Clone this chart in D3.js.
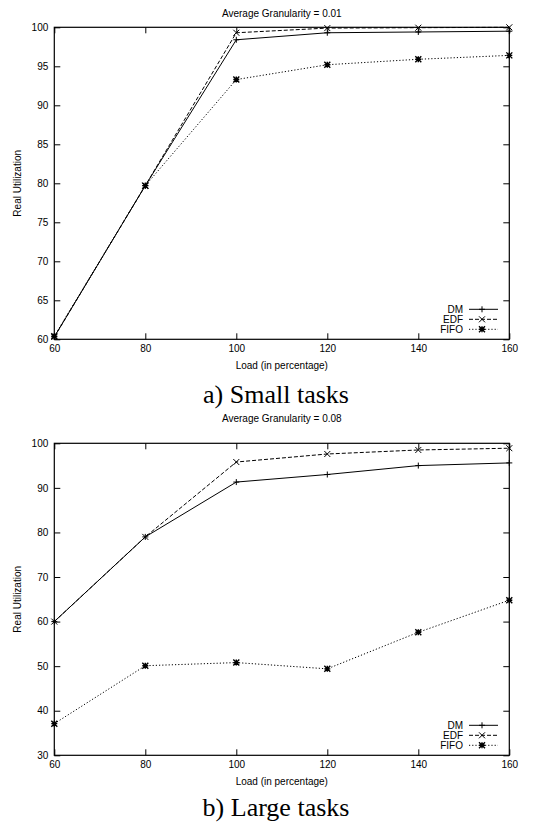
<!DOCTYPE html>
<html>
<head>
<meta charset="utf-8">
<script src="https://cdn.jsdelivr.net/npm/d3@7"></script>
<style>
  body { margin: 0; background: #fff; }
  svg { display: block; }
  text { font-family: "Liberation Sans", Arial, sans-serif; font-size: 10px; fill: #000; }
  text.caption { font-family: "Liberation Serif", "Times New Roman", serif; font-size: 26px; }
</style>
</head>
<body>
<div id="chart"></div>
<script>
// data
var loads = [60, 80, 100, 120, 140, 160];
var seriesNames = ["DM", "EDF", "FIFO"];

var smallDM   = [60.3, 79.7, 98.4, 99.3, 99.4, 99.5];
var smallEDF  = [60.3, 79.7, 99.3, 99.9, 99.95, 100];
var smallFIFO = [60.4, 79.7, 93.3, 95.2, 95.9, 96.4];

var largeDM   = [60, 79, 91.3, 93, 95, 95.6];
var largeEDF  = [60, 79, 95.8, 97.6, 98.5, 98.9];
var largeFIFO = [37.1, 50.1, 50.8, 49.4, 57.6, 64.8];

var xTicks = [60, 80, 100, 120, 140, 160];
var smallYTicks = [60, 65, 70, 75, 80, 85, 90, 95, 100];
var largeYTicks = [30, 40, 50, 60, 70, 80, 90, 100];

var W = 541, H = 826;

// line style per series (gnuplot look)
var DASH = { DM: null, EDF: "4,2", FIFO: "1.2,2" };

function markerPath(name, r) {
  var plus = "M" + (-r) + ",0H" + r + "M0," + (-r) + "V" + r;
  var cross = "M" + (-r) + "," + (-r) + "L" + r + "," + r + "M" + (-r) + "," + r + "L" + r + "," + (-r);
  if (name == "DM") return plus;
  if (name == "EDF") return cross;
  return plus + cross;
}

//////////////////////////////////
function drawPanel(svg, cfg) {
  var g = svg.append("g");
  var x = d3.scaleLinear().domain([60, 160]).range([cfg.left, cfg.right]);
  var y = d3.scaleLinear().domain(cfg.yDomain).range([cfg.bottom, cfg.top]);
  var tick = 6;

  // frame
  g.append("rect")
    .attr("x", cfg.left).attr("y", cfg.top)
    .attr("width", cfg.right - cfg.left).attr("height", cfg.bottom - cfg.top)
    .attr("fill", "none").attr("stroke", "#000").attr("stroke-width", 1.2);

  // axes (ticks mirrored on all sides, pointing inward)
  g.append("g").attr("transform", "translate(0," + cfg.bottom + ")")
    .call(d3.axisBottom(x).tickValues(xTicks).tickSizeInner(-tick).tickSizeOuter(0).tickPadding(6))
    .call(function(a) { a.select(".domain").remove(); });
  g.append("g").attr("transform", "translate(0," + cfg.top + ")")
    .call(d3.axisTop(x).tickValues(xTicks).tickSizeInner(-tick).tickSizeOuter(0).tickFormat(""))
    .call(function(a) { a.select(".domain").remove(); });
  g.append("g").attr("transform", "translate(" + cfg.left + ",0)")
    .call(d3.axisLeft(y).tickValues(cfg.yTicks).tickSizeInner(-tick).tickSizeOuter(0).tickPadding(6))
    .call(function(a) { a.select(".domain").remove(); });
  g.append("g").attr("transform", "translate(" + cfg.right + ",0)")
    .call(d3.axisRight(y).tickValues(cfg.yTicks).tickSizeInner(-tick).tickSizeOuter(0).tickFormat(""))
    .call(function(a) { a.select(".domain").remove(); });
  g.selectAll(".tick text")
    .attr("font-size", 10)
    .attr("font-family", "Liberation Sans, Arial, sans-serif")
    .attr("fill", "#000");
  g.selectAll(".tick line").attr("stroke", "#000");

  // titles
  g.append("text")
    .attr("x", (cfg.left + cfg.right) / 2).attr("y", cfg.titleY)
    .attr("text-anchor", "middle").attr("dy", "0.35em")
    .text(cfg.title);
  g.append("text")
    .attr("x", (cfg.left + cfg.right) / 2).attr("y", cfg.bottom + 26)
    .attr("text-anchor", "middle").attr("dy", "0.35em")
    .text("Load (in percentage)");
  g.append("text")
    .attr("transform", "translate(17," + ((cfg.top + cfg.bottom) / 2) + ") rotate(-90)")
    .attr("text-anchor", "middle").attr("dy", "0.35em")
    .text("Real Utilization");

  // lines + points
  var line = d3.line()
    .x(function(d) { return x(d[0]); })
    .y(function(d) { return y(d[1]); });

  seriesNames.forEach(function(name, i) {
    var pts = loads.map(function(l, j) { return [l, cfg.values[i][j]]; });
    g.append("path")
      .attr("d", line(pts))
      .attr("fill", "none")
      .attr("stroke", "#000")
      .attr("stroke-width", 1)
      .attr("stroke-dasharray", DASH[name]);
    g.selectAll("path.pt-" + name)
      .data(pts)
    .enter()
      .append("path")
      .attr("class", "pt-" + name)
      .attr("d", markerPath(name, 3))
      .attr("transform", function(d) { return "translate(" + x(d[0]) + "," + y(d[1]) + ")"; })
      .attr("stroke", "#000")
      .attr("stroke-width", name == "FIFO" ? 1.4 : 1)
      .attr("fill", "none");
  });

  // legend
  seriesNames.forEach(function(name, i) {
    var ly = cfg.bottom - 30 + i * 10;
    g.append("text")
      .attr("x", 463).attr("y", ly).attr("dy", "0.35em")
      .attr("text-anchor", "end")
      .text(name);
    g.append("line")
      .attr("x1", 469).attr("x2", 498).attr("y1", ly).attr("y2", ly)
      .attr("stroke", "#000").attr("stroke-width", 1)
      .attr("stroke-dasharray", DASH[name]);
    g.append("path")
      .attr("d", markerPath(name, 3))
      .attr("transform", "translate(482," + ly + ")")
      .attr("stroke", "#000")
      .attr("stroke-width", name == "FIFO" ? 1.4 : 1)
      .attr("fill", "none");
  });

  // caption under the panel
  svg.append("text")
    .attr("class", "caption")
    .attr("x", 276).attr("y", cfg.captionY)
    .attr("text-anchor", "middle")
    .text(cfg.caption);
}

//////////////////////////////////
var svg = d3.select("#chart").append("svg")
  .attr("width", W).attr("height", H);

drawPanel(svg, {
  left: 54.3, right: 509.3, top: 27.3, bottom: 339.3,
  yDomain: [60, 100], yTicks: smallYTicks,
  values: [smallDM, smallEDF, smallFIFO],
  title: "Average Granularity = 0.01", titleY: 13,
  caption: "a) Small tasks", captionY: 403
});

drawPanel(svg, {
  left: 54.3, right: 509.3, top: 443.3, bottom: 755.3,
  yDomain: [30, 100], yTicks: largeYTicks,
  values: [largeDM, largeEDF, largeFIFO],
  title: "Average Granularity = 0.08", titleY: 418,
  caption: "b) Large tasks", captionY: 816
});
</script>
</body>
</html>
